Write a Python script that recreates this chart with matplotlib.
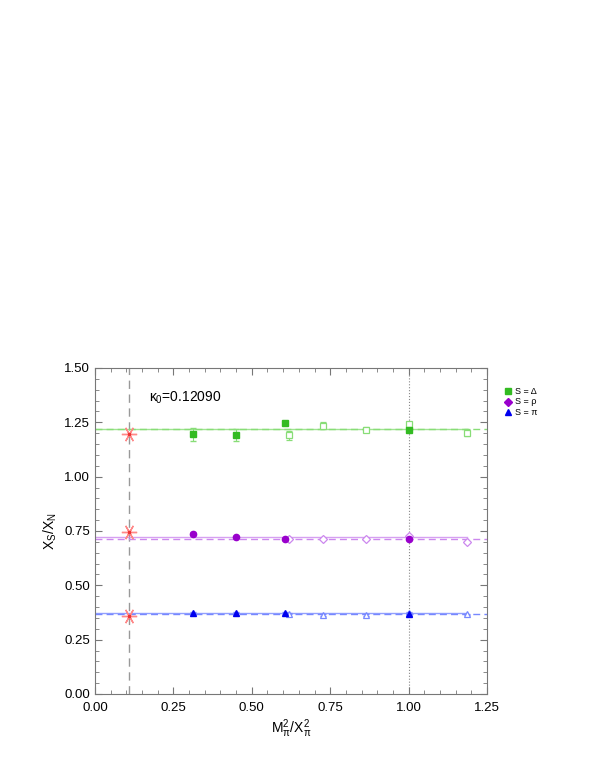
import matplotlib
matplotlib.use("Agg")
import matplotlib.pyplot as plt
import numpy as np

plt.rcParams['font.family'] = ['Liberation Sans', 'DejaVu Sans']
plt.rcParams['mathtext.fontset'] = 'custom'
plt.rcParams['mathtext.rm'] = 'Liberation Sans'
plt.rcParams['mathtext.it'] = 'Liberation Sans'

# filled symbols (first set of masses)
x_fill = [0.311, 0.450, 0.606, 1.000]
delta_fill = [1.196, 1.192, 1.246, 1.216]
delta_fill_err = [0.030, 0.026, 0.010, 0.010]
rho_fill = [0.738, 0.724, 0.713, 0.715]
rho_fill_err = [0.006, 0.005, 0.004, 0.004]
pi_fill = [0.374, 0.374, 0.373, 0.370]
pi_fill_err = [0.003, 0.003, 0.003, 0.003]

# open symbols (second set of masses)
x_open = [0.620, 0.726, 0.865, 1.000, 1.187]
delta_open = [1.190, 1.235, 1.216, 1.241, 1.202]
delta_open_err = [0.022, 0.016, 0.012, 0.012, 0.016]
rho_open = [0.712, 0.712, 0.712, 0.727, 0.701]
rho_open_err = [0.004, 0.004, 0.004, 0.006, 0.005]
pi_open = [0.370, 0.364, 0.364, 0.372, 0.367]
pi_open_err = [0.003, 0.003, 0.003, 0.003, 0.003]

# fits and chiral values
x_chiral = 0.11
fit_solid = [1.220, 0.721, 0.374]
fit_dash = [1.218, 0.713, 0.368]
chiral_val = [1.198, 0.743, 0.359]

fig = plt.figure(figsize=(5.99, 7.76), dpi=100)
ax = fig.add_axes([0.1586, 0.1057, 0.6544, 0.4201])

green, green_l = '#33bb22', '#88dd77'
purple, purple_l = '#9900cc', '#cc88ee'
blue, blue_l = '#0000ee', '#7788ff'

ax.axvline(x_chiral, color='#999999', ls=(0, (6, 4)), lw=1.0, zorder=1)
ax.axvline(1.0, color='#888888', ls=':', lw=0.8, zorder=1)

specs = [
    (delta_fill, delta_fill_err, delta_open, delta_open_err, green, green_l, 's', 's'),
    (rho_fill, rho_fill_err, rho_open, rho_open_err, purple, purple_l, 'o', 'D'),
    (pi_fill, pi_fill_err, pi_open, pi_open_err, blue, blue_l, '^', '^'),
]
for i, (yf, ef, yo, eo, c, cl, mf, mo) in enumerate(specs):
    ax.plot([0, 1.187], [fit_solid[i]] * 2, color=cl, lw=1.0, alpha=0.8, zorder=2)
    ax.axhline(fit_dash[i], color=cl, lw=1.0, ls=(0, (5, 3)), zorder=2)
    ax.errorbar(x_open, yo, yerr=eo, fmt=mo, ms=4.5 if mo != 'D' else 4,
                mfc='white', mec=cl, ecolor=cl, elinewidth=0.8, capsize=2.5,
                mew=0.9, zorder=3)
    ax.errorbar(x_fill, yf, yerr=ef, fmt=mf, ms=4.5, color=c, ecolor=green_l if i == 0 else cl,
                elinewidth=0.8, capsize=2.5, zorder=4)
    ax.plot([x_chiral], [chiral_val[i]], marker=(6, 2, 90), ms=11, color='#ff8888',
            mew=1.0, ls='none', zorder=5)
    ax.plot([x_chiral], [chiral_val[i]], marker='s', ms=2, color='#ee3333', ls='none', zorder=6)

ax.text(0.173, 1.362, r'$\kappa_0$=0.12090', fontsize=10, va='center')

ax.set_xlim(0, 1.25)
ax.set_ylim(0, 1.5)
ax.set_xticks(np.arange(0, 1.26, 0.25))
ax.set_yticks(np.arange(0, 1.51, 0.25))
ax.set_xticks(np.arange(0, 1.26, 0.05), minor=True)
ax.set_yticks(np.arange(0, 1.51, 0.05), minor=True)
ax.xaxis.set_major_formatter(matplotlib.ticker.FormatStrFormatter('%.2f'))
ax.yaxis.set_major_formatter(matplotlib.ticker.FormatStrFormatter('%.2f'))
ax.tick_params(which='both', direction='in', top=True, right=True, labelsize=9.5, color='#777777')
ax.tick_params(which='major', length=5)
ax.tick_params(which='minor', length=3)
ax.tick_params(axis='x', pad=6)
for s in ax.spines.values():
    s.set_color('#777777')

ax.set_xlabel(r'M$_\pi^2$/X$_\pi^2$', fontsize=10, labelpad=2)
ax.set_ylabel(r'X$_S$/X$_N$', fontsize=10)

# legend outside on the right
lx, ly = 0.848, 0.496
for j, (lab, c, m) in enumerate([('S = Δ', green, 's'), ('S = ρ', purple, 'D'), ('S = π', blue, '^')]):
    yy = ly - j * 0.0135
    fig.lines.append(matplotlib.lines.Line2D([lx], [yy], marker=m, color=c, ms=4,
                                             transform=fig.transFigure))
    fig.text(lx + 0.012, yy, lab, fontsize=6.5, va='center')

fig.savefig('out.png', dpi=100)
